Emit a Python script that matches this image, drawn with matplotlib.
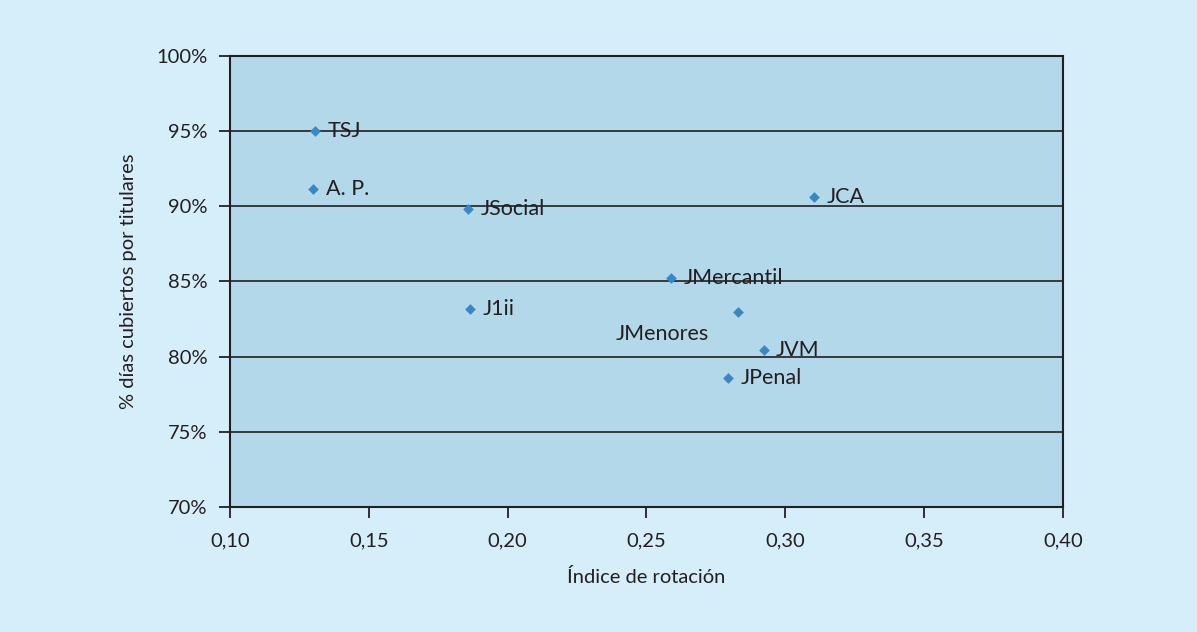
import matplotlib
matplotlib.use('Agg')
import matplotlib.pyplot as plt
from matplotlib.ticker import FuncFormatter, MultipleLocator

plt.rcParams['font.family'] = ['Lato', 'DejaVu Sans']

# datos
organos = ['TSJ', 'A. P.', 'JSocial', 'J1ii', 'JMercantil', 'JMenores', 'JVM', 'JPenal', 'JCA']
rotacion = [0.1306, 0.1300, 0.1857, 0.1864, 0.2588, 0.2829, 0.2922, 0.2795, 0.3104]
cubiertos = [95.0, 91.15, 89.8, 83.2, 85.2, 83.0, 80.45, 78.55, 90.6]

# desplazamiento de cada etiqueta (puntos)
offsets = {'JMenores': (-88, -16)}

BG = '#d5eefa'
PLOT_BG = '#b3d8ea'
MARK = '#3a87c8'
INK = '#231f20'

fig = plt.figure(figsize=(11.97, 6.32), dpi=100, facecolor=BG)
ax = fig.add_axes([0.1922, 0.1978, 0.6958, 0.7136])
ax.set_facecolor(PLOT_BG)

ax.scatter(rotacion, cubiertos, marker='D', s=30, color=MARK, zorder=3, linewidths=0)
for name, x, y in zip(organos, rotacion, cubiertos):
    dx, dy = offsets.get(name, (9, 0))
    ax.annotate(name, (x, y), xytext=(dx, dy), textcoords='offset points',
                ha='left', va='center', fontsize=15.5, color=INK, zorder=4)

ax.set_xlim(0.10, 0.40)
ax.set_ylim(70, 100)
ax.xaxis.set_major_locator(MultipleLocator(0.05))
ax.yaxis.set_major_locator(MultipleLocator(5))
ax.xaxis.set_major_formatter(FuncFormatter(lambda v, p: f'{v:.2f}'.replace('.', ',')))
ax.yaxis.set_major_formatter(FuncFormatter(lambda v, p: f'{v:.0f}%'))
ax.grid(axis='y', color=INK, linewidth=1.2, zorder=1)
ax.set_axisbelow(True)

for s in ax.spines.values():
    s.set_color(INK)
    s.set_linewidth(1.5)
ax.tick_params(direction='out', length=8, width=1.3, color=INK,
               labelsize=14.5, labelcolor=INK)
ax.tick_params(axis='x', pad=10)
ax.tick_params(axis='y', pad=8)

ax.set_xlabel('Índice de rotación', fontsize=14.5, color=INK, labelpad=14)
ax.set_ylabel('% días cubiertos por titulares', fontsize=14.5, color=INK, labelpad=14)

fig.savefig('out.png', dpi=100, facecolor=BG)
